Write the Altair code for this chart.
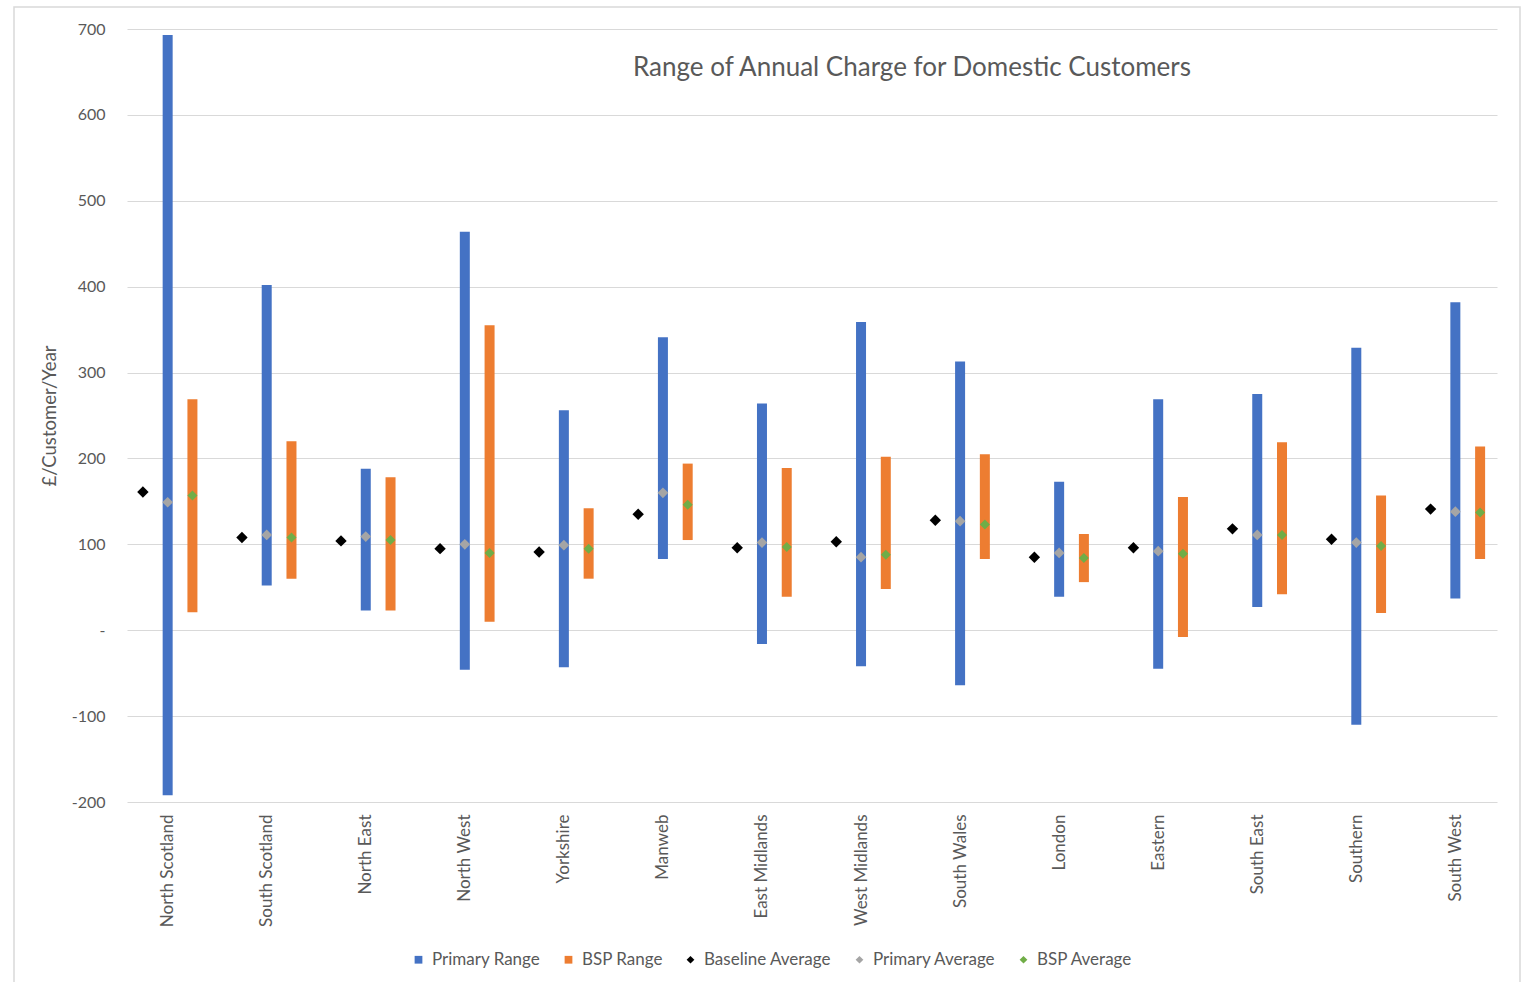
import json
import altair as alt
import pandas as pd

regions = ["North Scotland", "South Scotland", "North East", "North West", "Yorkshire",
           "Manweb", "East Midlands", "West Midlands", "South Wales", "London",
           "Eastern", "South East", "Southern", "South West"]
primary_max = [693, 402, 188, 464, 256, 341, 264, 359, 313, 173, 269, 275, 329, 382]
primary_min = [-192, 52, 23, -46, -43, 83, -16, -42, -64, 39, -45, 27, -110, 37]
bsp_max = [269, 220, 178, 355, 142, 194, 189, 202, 205, 112, 155, 219, 157, 214]
bsp_min = [21, 60, 23, 10, 60, 105, 39, 48, 83, 56, -8, 42, 20, 83]
baseline_avg = [161, 108, 104, 95, 91, 135, 96, 103, 128, 85, 96, 118, 106, 141]
primary_avg = [149, 111, 109, 100, 99, 160, 102, 85, 127, 90, 92, 111, 102, 138]
bsp_avg = [157, 108, 105, 90, 95, 146, 97, 88, 123, 84, 89, 111, 98, 137]

y_ticks = [-200, -100, 0, 100, 200, 300, 400, 500, 600, 700]
series_order = ["Primary Range", "BSP Range", "Baseline Average", "Primary Average", "BSP Average"]
series_colors = ["#4472C4", "#ED7D31", "#000000", "#A5A5A5", "#70AD47"]
series_shapes = ["square", "square", "diamond", "diamond", "diamond"]

range_rows = []
for i, r in enumerate(regions):
    range_rows.append(dict(idx=i, region=r, series="Primary Range", lo=primary_min[i], hi=primary_max[i]))
    range_rows.append(dict(idx=i, region=r, series="BSP Range", lo=bsp_min[i], hi=bsp_max[i]))
ranges = pd.DataFrame(range_rows)

point_rows = []
for i, r in enumerate(regions):
    point_rows.append(dict(idx=i, region=r, series="Baseline Average", value=baseline_avg[i]))
    point_rows.append(dict(idx=i, region=r, series="Primary Average", value=primary_avg[i]))
    point_rows.append(dict(idx=i, region=r, series="BSP Average", value=bsp_avg[i]))
points = pd.DataFrame(point_rows)

offset_expr = ("datum.idx + (datum.series === 'Baseline Average' ? -0.25 : "
               "((datum.series === 'BSP Range' || datum.series === 'BSP Average') ? 0.25 : 0))")

TXT = "#595959"
FONT = "Lato"

xscale = alt.Scale(domain=[-0.36, 13.37], nice=False, zero=False)
yscale = alt.Scale(domain=[-200, 700], nice=False, zero=False)

xaxis = alt.Axis(values=list(range(len(regions))),
                 labelExpr=json.dumps(regions) + "[datum.value]",
                 labelAngle=270, labelAlign="right", labelBaseline="middle",
                 labelPadding=12, labelFontSize=17, labelColor=TXT, labelFont=FONT,
                 grid=False, ticks=False, domain=False, title=None)
yaxis = alt.Axis(values=y_ticks,
                 labelExpr="datum.value === 0 ? '-' : '' + datum.value",
                 labelFontSize=16, labelColor=TXT, labelFont=FONT, labelPadding=22,
                 grid=True, gridColor="#D9D9D9", gridWidth=1.2,
                 ticks=False, domain=False,
                 title="£/Customer/Year", titleFontSize=18.5, titleFont=FONT,
                 titleColor=TXT, titleFontWeight="normal", titlePadding=12)

cscale = alt.Scale(domain=series_order, range=series_colors)
sscale = alt.Scale(domain=series_order, range=series_shapes)
legend = alt.Legend(title=None, orient="none", legendX=283, legendY=922,
                    direction="horizontal", labelFontSize=17, labelColor=TXT,
                    labelFont=FONT, symbolSize=60, columnPadding=19, labelOffset=5,
                    symbolStrokeWidth=0)

bars = alt.Chart(ranges).transform_calculate(pos=offset_expr).mark_bar(size=10).encode(
    x=alt.X("pos:Q", scale=xscale, axis=xaxis),
    y=alt.Y("lo:Q", scale=yscale, axis=yaxis),
    y2="hi:Q",
    color=alt.Color("series:N", scale=cscale, legend=legend),
)

dots = alt.Chart(points).transform_calculate(pos=offset_expr).mark_point(filled=True, opacity=1).encode(
    x=alt.X("pos:Q", scale=xscale),
    y=alt.Y("value:Q", scale=yscale),
    color=alt.Color("series:N", scale=cscale, legend=legend),
    shape=alt.Shape("series:N", scale=sscale, legend=legend),
    size=alt.Size("series:N", scale=alt.Scale(domain=series_order[2:], range=[130, 100, 100]), legend=None),
)

title = alt.Chart(alt.Data(values=[{"t": "Range of Annual Charge for Domestic Customers"}])).mark_text(
    fontSize=26, font=FONT, color=TXT, align="center", baseline="middle"
).encode(x=alt.value(785), y=alt.value(39), text="t:N")

border = alt.Chart(alt.Data(values=[{}])).mark_rect(fill=None, stroke="#D9D9D9", strokeWidth=1.5).encode(
    x=alt.value(-113), x2=alt.value(1393), y=alt.value(-22), y2=alt.value(980)
)

chart = alt.layer(border, bars, dots, title).properties(
    width=1370, height=773,
    autosize=alt.AutoSizeParams(type="none"),
    padding={"left": 127, "top": 29, "right": 27, "bottom": 180},
    background="white",
).configure_view(stroke=None)

chart.save("out.html", embed_options={"renderer": "svg", "actions": False})
